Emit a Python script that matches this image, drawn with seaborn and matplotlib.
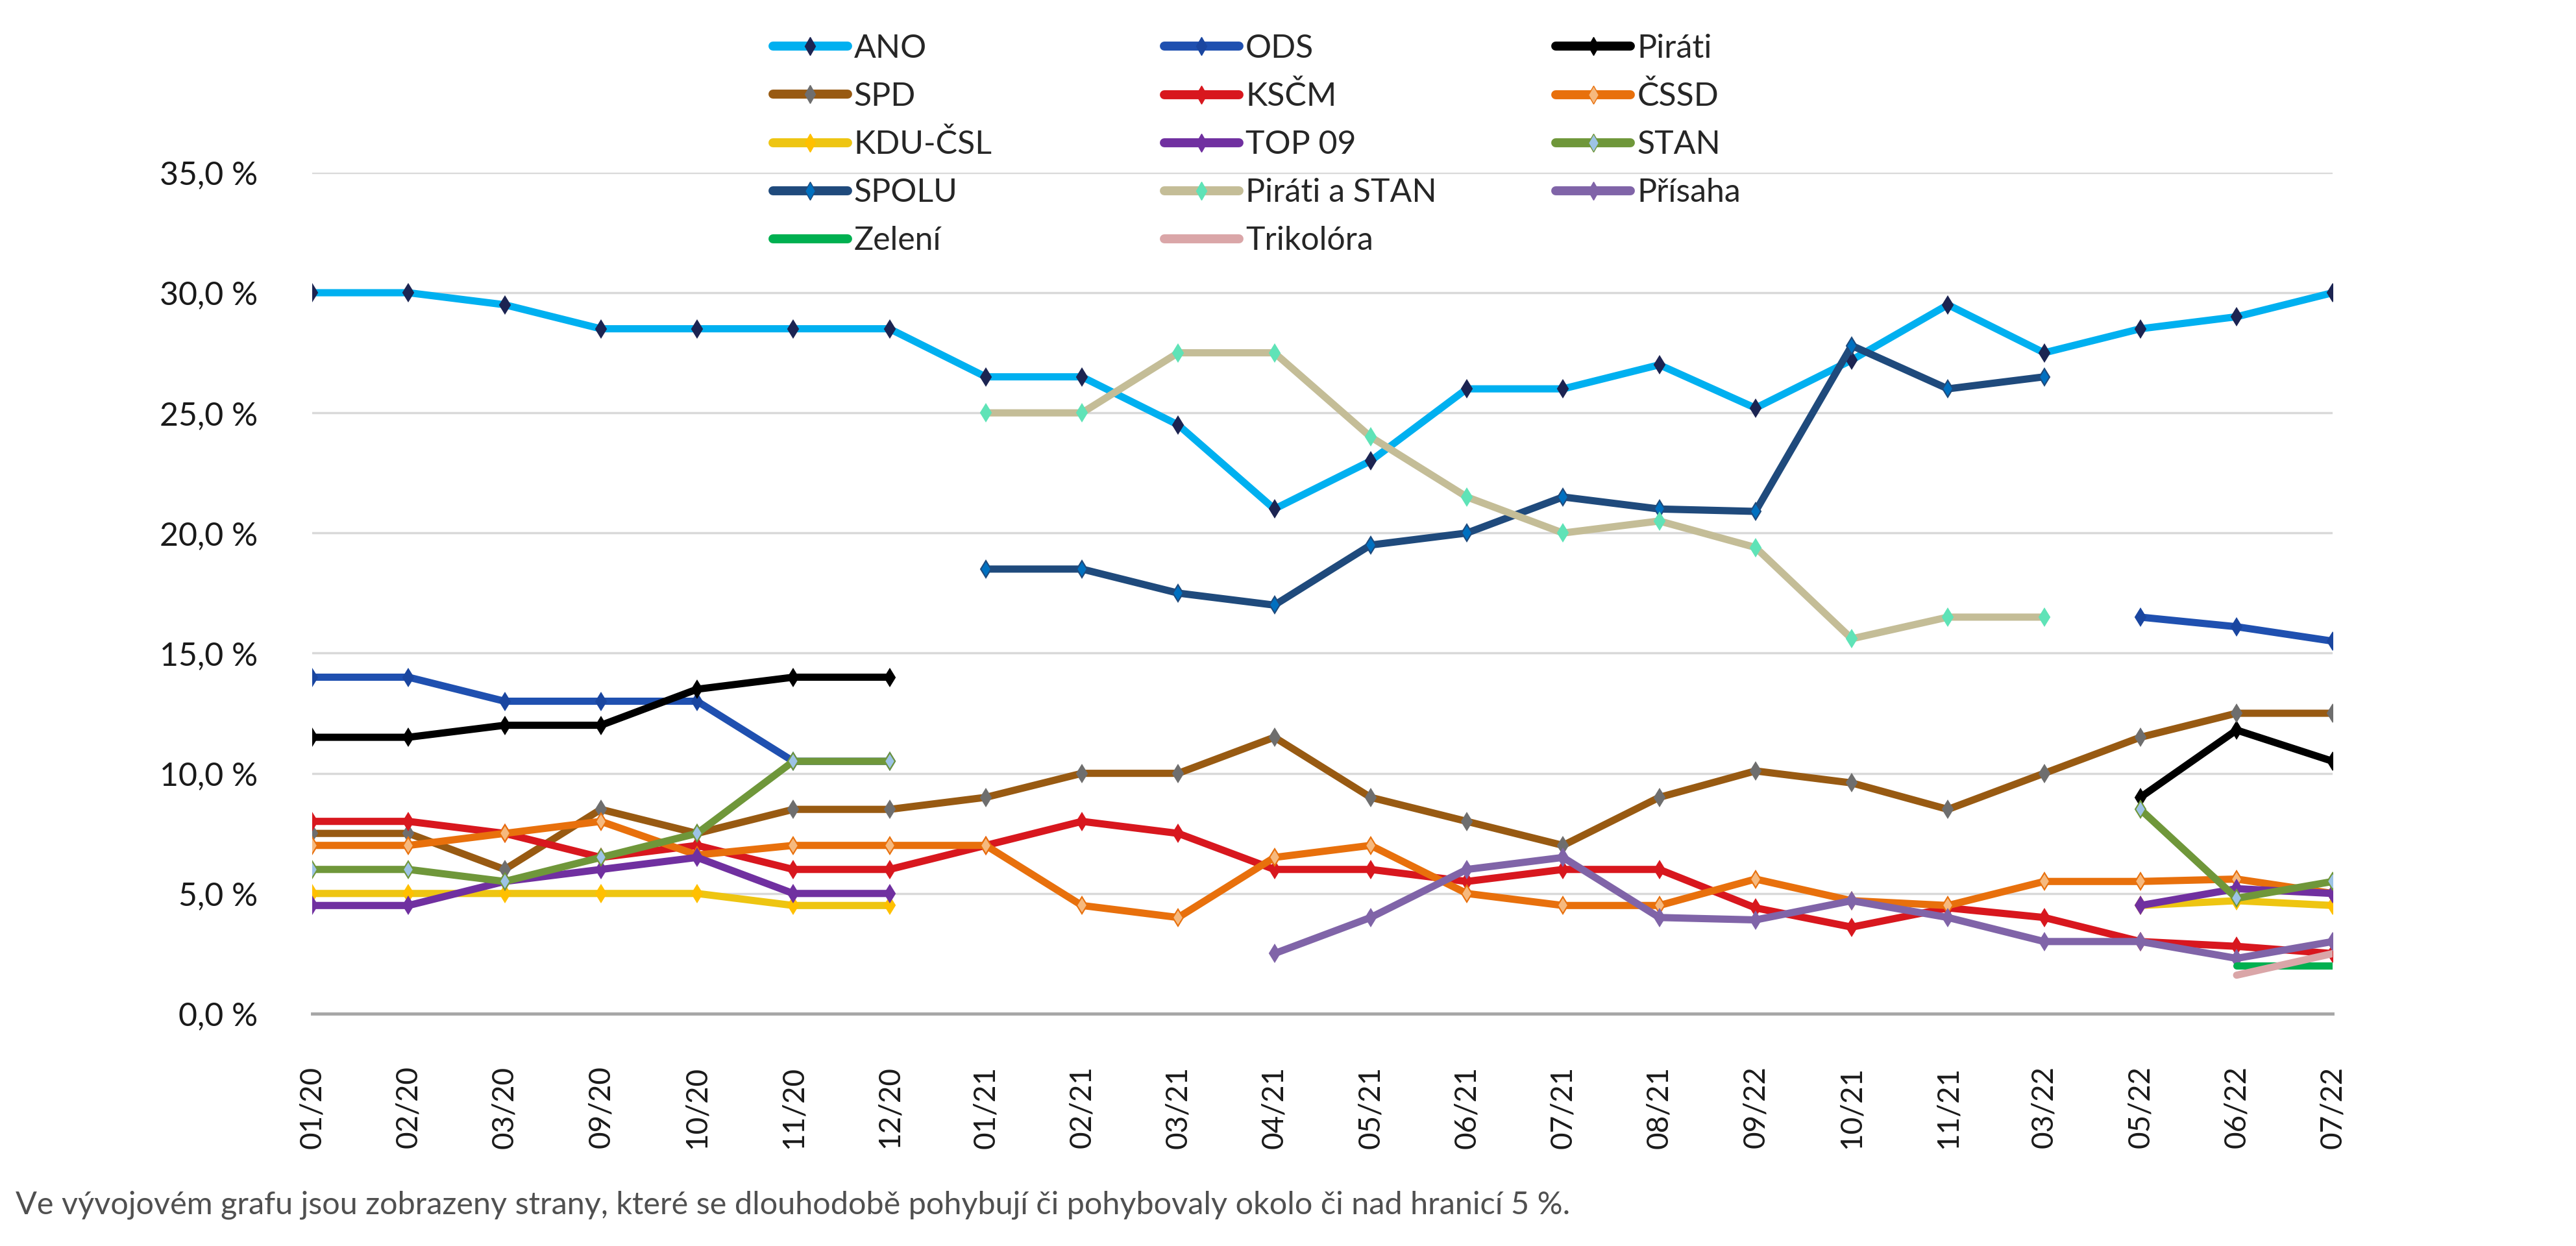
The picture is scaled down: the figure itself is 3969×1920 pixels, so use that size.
import numpy as np
import pandas as pd
import matplotlib
matplotlib.use('Agg')
import matplotlib.pyplot as plt
from matplotlib.lines import Line2D
import seaborn as sns

nan = np.nan

# Months as printed on the x axis (label "09/22" kept as in the source)
months = ['01/20', '02/20', '03/20', '09/20', '10/20', '11/20', '12/20',
          '01/21', '02/21', '03/21', '04/21', '05/21', '06/21', '07/21',
          '08/21', '09/22', '10/21', '11/21', '03/22', '05/22', '06/22', '07/22']

ano = [30.0, 30.0, 29.5, 28.5, 28.5, 28.5, 28.5, 26.5, 26.5, 24.5, 21.0, 23.0, 26.0, 26.0,
       27.0, 25.2, 27.2, 29.5, 27.5, 28.5, 29.0, 30.0]
ods = [14.0, 14.0, 13.0, 13.0, 13.0, 10.5, 10.5, nan, nan, nan, nan, nan, nan, nan,
       nan, nan, nan, nan, nan, 16.5, 16.1, 15.5]
pirati = [11.5, 11.5, 12.0, 12.0, 13.5, 14.0, 14.0, nan, nan, nan, nan, nan, nan, nan,
          nan, nan, nan, nan, nan, 9.0, 11.8, 10.5]
spd = [7.5, 7.5, 6.0, 8.5, 7.5, 8.5, 8.5, 9.0, 10.0, 10.0, 11.5, 9.0, 8.0, 7.0,
       9.0, 10.1, 9.6, 8.5, 10.0, 11.5, 12.5, 12.5]
kscm = [8.0, 8.0, 7.5, 6.5, 7.0, 6.0, 6.0, 7.0, 8.0, 7.5, 6.0, 6.0, 5.5, 6.0,
        6.0, 4.4, 3.6, 4.4, 4.0, 3.0, 2.8, 2.5]
cssd = [7.0, 7.0, 7.5, 8.0, 6.6, 7.0, 7.0, 7.0, 4.5, 4.0, 6.5, 7.0, 5.0, 4.5,
        4.5, 5.6, 4.7, 4.5, 5.5, 5.5, 5.6, 5.0]
kdu = [5.0, 5.0, 5.0, 5.0, 5.0, 4.5, 4.5, nan, nan, nan, nan, nan, nan, nan,
       nan, nan, nan, nan, nan, 4.5, 4.7, 4.5]
top09 = [4.5, 4.5, 5.5, 6.0, 6.5, 5.0, 5.0, nan, nan, nan, nan, nan, nan, nan,
         nan, nan, nan, nan, nan, 4.5, 5.2, 5.0]
stan = [6.0, 6.0, 5.5, 6.5, 7.5, 10.5, 10.5, nan, nan, nan, nan, nan, nan, nan,
        nan, nan, nan, nan, nan, 8.5, 4.8, 5.5]
spolu = [nan, nan, nan, nan, nan, nan, nan, 18.5, 18.5, 17.5, 17.0, 19.5, 20.0, 21.5,
         21.0, 20.9, 27.8, 26.0, 26.5, nan, nan, nan]
pirstan = [nan, nan, nan, nan, nan, nan, nan, 25.0, 25.0, 27.5, 27.5, 24.0, 21.5, 20.0,
           20.5, 19.4, 15.6, 16.5, 16.5, nan, nan, nan]
prisaha = [nan, nan, nan, nan, nan, nan, nan, nan, nan, nan, 2.5, 4.0, 6.0, 6.5,
           4.0, 3.9, 4.7, 4.0, 3.0, 3.0, 2.3, 3.0]
zeleni = [nan] * 20 + [2.0, 2.0]
trikolora = [nan] * 20 + [1.6, 2.5]

parties = ['ANO', 'ODS', 'Piráti', 'SPD', 'KSČM', 'ČSSD', 'KDU-ČSL', 'TOP 09', 'STAN',
           'SPOLU', 'Piráti a STAN', 'Přísaha', 'Zelení', 'Trikolóra']
series = [ano, ods, pirati, spd, kscm, cssd, kdu, top09, stan, spolu, pirstan, prisaha,
          zeleni, trikolora]

# line colour, marker face, marker edge (None = no marker)
styles = {
    'ANO': ('#00B0F0', '#1C2452', '#1C2452'),
    'ODS': ('#1F50B0', '#1A46A0', '#1A46A0'),
    'Piráti': ('#000000', '#000000', '#000000'),
    'SPD': ('#985A12', '#6E6E6E', '#6E6E6E'),
    'KSČM': ('#D8171E', '#D8171E', '#D8171E'),
    'ČSSD': ('#E8700C', '#F6B97E', '#E8700C'),
    'KDU-ČSL': ('#EEC512', '#FFC000', '#FFC000'),
    'TOP 09': ('#7030A0', '#7030A0', '#7030A0'),
    'STAN': ('#6F973A', '#9DC3E6', '#6F973A'),
    'SPOLU': ('#1F4A7C', '#0070C0', '#1F4A7C'),
    'Piráti a STAN': ('#C4BD97', '#5FE3B7', '#5FE3B7'),
    'Přísaha': ('#8064A8', '#8064A8', '#8064A8'),
    'Zelení': ('#00B050', None, None),
    'Trikolóra': ('#DAA6A8', None, None),
}

sns.set_theme(style='white')
plt.rcParams['font.family'] = ['Lato', 'DejaVu Sans']

fig = plt.figure(figsize=(39.69, 19.2), dpi=100)
ax = fig.add_axes([0.1212, 0.1865, 0.7844, 0.675])

pos = np.arange(len(months))
for name, vals in zip(parties, series):
    line_c, face_c, edge_c = styles[name]
    df = pd.DataFrame({'pos': pos, 'val': vals})
    # split into contiguous runs so gaps stay open
    df['seg'] = df['val'].isna().cumsum()
    df = df.dropna()
    for _, seg in df.groupby('seg'):
        kw = dict(color=line_c, linewidth=8, legend=False, ax=ax)
        if face_c is not None:
            kw.update(marker='d', markersize=13, markerfacecolor=face_c,
                      markeredgecolor=edge_c, markeredgewidth=1.5)
        sns.lineplot(data=seg, x='pos', y='val', **kw)

ax.set_xlim(0, len(months) - 1)
ax.set_ylim(0, 35)
ax.set_yticks(np.arange(0, 36, 5))
ax.set_yticklabels([f'{v:.1f} %'.replace('.', ',') for v in np.arange(0, 36, 5)],
                   fontsize=36, color='#1a1a1a')
ax.set_xticks(pos)
ax.set_xticklabels(months, rotation=90, fontsize=33, color='#1a1a1a')
ax.set_xlabel('')
ax.set_ylabel('')
ax.grid(axis='y', color='#D9D9D9', linewidth=2.5)
ax.grid(axis='x', visible=False)
ax.set_axisbelow(True)
for s in ['left', 'right', 'top']:
    ax.spines[s].set_visible(False)
ax.spines['bottom'].set_color('#A6A6A6')
ax.spines['bottom'].set_linewidth(3.5)
ax.tick_params(axis='x', which='major', length=22, width=2, color='#A6A6A6', pad=36)
ax.tick_params(axis='y', length=0, pad=60)

# legend laid out in three fixed columns, filled row by row
def handle(name):
    line_c, face_c, edge_c = styles[name]
    if face_c is None:
        return Line2D([], [], color=line_c, linewidth=10)
    return Line2D([], [], color=line_c, linewidth=10, marker='d', markersize=14,
                  markerfacecolor=face_c, markeredgecolor=edge_c)

col_x = [0.300, 0.452, 0.604]
for c in range(3):
    names = parties[c::3]
    fig.legend([handle(n) for n in names], names, loc='upper left',
               bbox_to_anchor=(col_x[c], 0.973), frameon=False, fontsize=36,
               handlelength=2.3, handletextpad=0.2, labelspacing=0.56, borderpad=0,
               borderaxespad=0)

fig.text(0.006, 0.026, 'Ve vývojovém grafu jsou zobrazeny strany, které se dlouhodobě '
         'pohybují či pohybovaly okolo či nad hranicí 5 %.', fontsize=35, color='#505050')

fig.savefig('out.png', dpi=100)
